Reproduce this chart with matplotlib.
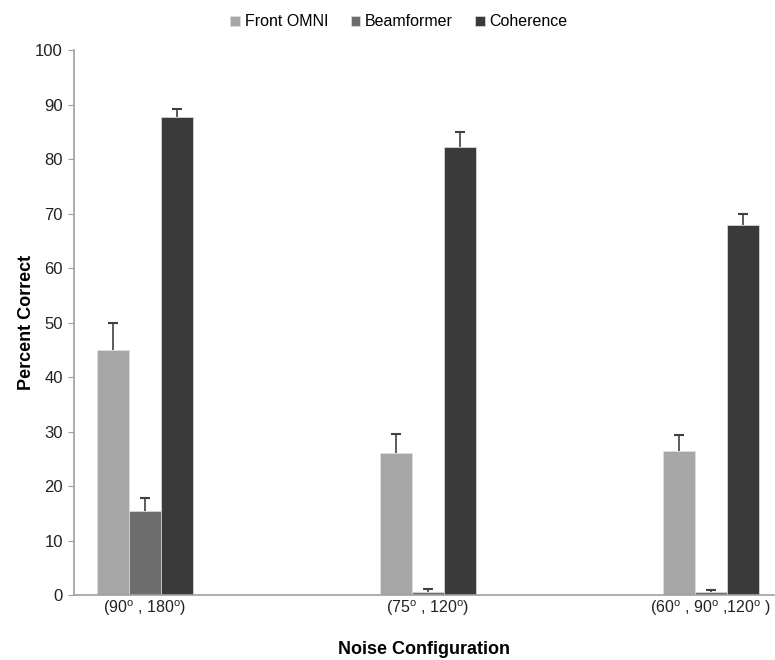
import matplotlib
matplotlib.use("Agg")
import matplotlib.pyplot as plt
import numpy as np

plt.rcParams['font.family'] = ['Liberation Sans', 'DejaVu Sans']
plt.rcParams['mathtext.fontset'] = 'custom'
plt.rcParams['mathtext.rm'] = 'Liberation Sans'

categories = [r'(90$^{\rm o}$ , 180$^{\rm o}$)', r'(75$^{\rm o}$ , 120$^{\rm o}$)',
              r'(60$^{\rm o}$ , 90$^{\rm o}$ ,120$^{\rm o}$ )']
series_names = ['Front OMNI', 'Beamformer', 'Coherence']
front_omni = [45.0, 26.1, 26.5]
front_omni_err = [4.9, 3.5, 2.9]
beamformer = [15.5, 0.7, 0.6]
beamformer_err = [2.3, 0.45, 0.37]
coherence = [87.8, 82.2, 67.9]
coherence_err = [1.4, 2.8, 2.1]
yticks = [0, 10, 20, 30, 40, 50, 60, 70, 80, 90, 100]

colors = ['#a6a6a6', '#6d6d6d', '#3a3a3a']
fig = plt.figure(figsize=(7.75, 6.6), dpi=100)
ax = fig.add_axes([0.0955, 0.098, 0.903, 0.826])

x = np.arange(len(categories))
w = 0.113
data = [(front_omni, front_omni_err), (beamformer, beamformer_err), (coherence, coherence_err)]
for i, ((vals, errs), name, c) in enumerate(zip(data, series_names, colors)):
    xs = x + (i - 1) * w
    vals = np.array(vals)
    errs = np.array(errs)
    ax.bar(xs, vals, w, color=c, label=name, edgecolor='#e0e0e0', linewidth=0.5, zorder=2)
    ax.errorbar(xs, vals, yerr=[np.zeros(len(errs)), errs], fmt='none',
                ecolor='#404040', elinewidth=1.2, capsize=0, zorder=3)
    ax.plot(xs, vals + errs, linestyle='none', marker='_', markersize=7,
            markeredgewidth=1.5, color='#404040', zorder=3)

ax.set_xlim(-0.251, 2.223)
ax.set_ylim(0, 100)
ax.set_yticks(yticks)
ax.set_xticks(x)
ax.set_xticklabels(categories, fontsize=11.5, color='#222222')
ax.tick_params(axis='x', length=0, pad=2)
ax.tick_params(axis='y', length=4, color='#a0a0a0', labelsize=12, labelcolor='#222222', pad=4)
for s in ['top', 'right']:
    ax.spines[s].set_visible(False)
for s in ['left', 'bottom']:
    ax.spines[s].set_color('#a0a0a0')
    ax.spines[s].set_linewidth(1.2)
    ax.spines[s].set_zorder(4)

ax.set_ylabel('Percent Correct', fontsize=13, fontweight='bold', labelpad=0)
ax.set_xlabel('Noise Configuration', fontsize=13, fontweight='bold', labelpad=17)

fig.legend(loc='upper center', bbox_to_anchor=(0.515, 1.0), ncol=3, frameon=False,
           fontsize=11.5, handlelength=0.6, handleheight=0.6, handletextpad=0.3, columnspacing=1.4)

fig.savefig('out.png', dpi=100)
